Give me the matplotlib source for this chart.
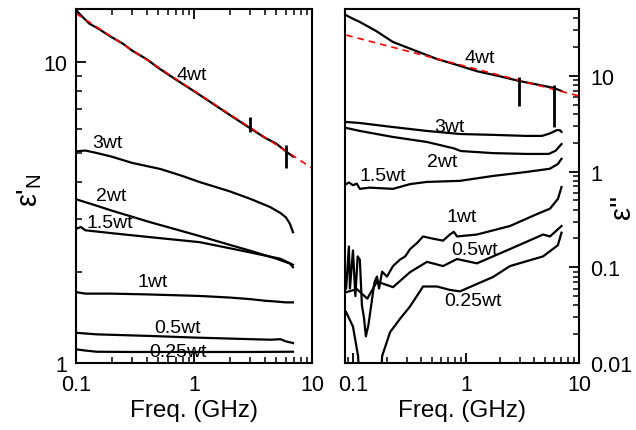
import matplotlib
matplotlib.use("Agg")
import matplotlib.pyplot as plt
from matplotlib.ticker import FixedLocator, FixedFormatter, LogLocator, NullFormatter

plt.rcParams['font.family'] = ['Liberation Sans', 'DejaVu Sans']
plt.rcParams['mathtext.fontset'] = 'custom'
plt.rcParams['mathtext.rm'] = 'Liberation Sans'
plt.rcParams['mathtext.it'] = 'Liberation Sans'

# ---------------- left panel: eps'_N ----------------
L_f_4 = [0.1, 0.11, 0.13, 0.15, 0.17, 0.2, 0.25, 0.3, 0.4, 0.5, 0.7, 1, 1.5, 2, 3, 4, 5, 6, 6.9]
L_v_4 = [14.9, 14.3, 13.4, 13.0, 12.6, 12.1, 11.5, 10.9, 10.2, 9.55, 8.75, 8.0, 7.2, 6.68, 6.02, 5.6, 5.35, 5.05, 4.85]
L_f_3 = [0.1, 0.12, 0.145, 0.2, 0.3, 0.52, 0.8, 1.12, 2, 3, 4.4, 5.4, 6.0, 6.5, 6.9]
L_v_3 = [5.05, 5.08, 5.0, 4.85, 4.62, 4.41, 4.18, 3.99, 3.72, 3.51, 3.30, 3.15, 3.05, 2.90, 2.72]
L_f_2 = [0.1, 0.15, 0.2, 0.3, 0.42, 0.7, 1.12, 2, 3, 5, 6.5, 6.9]
L_v_2 = [3.5, 3.33, 3.21, 3.06, 2.94, 2.78, 2.64, 2.47, 2.36, 2.22, 2.14, 2.08]
L_f_15 = [0.1, 0.11, 0.12, 0.2, 0.42, 1.12, 3, 5.4, 6.9]
L_v_15 = [2.79, 2.83, 2.76, 2.70, 2.62, 2.52, 2.33, 2.22, 2.12]
L_f_1 = [0.1, 0.12, 0.2, 0.4, 1.12, 2, 3, 4, 5, 6, 6.9]
L_v_1 = [1.72, 1.70, 1.70, 1.69, 1.67, 1.65, 1.63, 1.61, 1.60, 1.59, 1.59]
L_f_05 = [0.1, 0.15, 0.42, 1, 3, 4.5, 5.4, 6, 6.9]
L_v_05 = [1.26, 1.245, 1.23, 1.215, 1.20, 1.195, 1.20, 1.18, 1.165]
L_f_025 = [0.1, 0.12, 0.15, 0.3, 1, 3, 6.9]
L_v_025 = [1.11, 1.10, 1.09, 1.088, 1.088, 1.088, 1.09]
L_fit_f = [0.1, 10]
L_fit_v = [14.5, 4.44]
L_mark_f = [3.0, 6.0]
L_mark_lo = [5.85, 4.44]
L_mark_hi = [6.57, 5.30]
L_labels = ['4wt', '3wt', '2wt', '1.5wt', '1wt', '0.5wt', '0.25wt']
L_label_f = [0.96, 0.183, 0.20, 0.194, 0.45, 0.72, 0.73]
L_label_v = [9.06, 5.42, 3.59, 2.94, 1.87, 1.317, 1.088]

# ---------------- right panel: eps'' ----------------
R_f_4 = [0.087, 0.1, 0.115, 0.16, 0.226, 0.35, 0.554, 0.8, 1.25, 2, 2.95, 4.3, 6.0, 7.0]
R_v_4 = [43, 39.5, 36.6, 29.5, 22.6, 18.5, 15.0, 13.2, 11.2, 9.9, 8.85, 8.1, 7.48, 6.95]
R_f_3 = [0.087, 0.115, 0.226, 0.45, 0.89, 1.73, 3.4, 4.7, 5.5, 6.4, 6.8, 7.0]
R_v_3 = [3.30, 3.22, 2.92, 2.66, 2.47, 2.42, 2.36, 2.36, 2.5, 2.72, 2.7, 2.6]
R_f_2 = [0.087, 0.115, 0.226, 0.45, 0.78, 0.9, 1.73, 3.4, 5.4, 6.2, 7.0]
R_v_2 = [2.86, 2.66, 2.30, 2.04, 1.75, 1.64, 1.56, 1.53, 1.53, 1.65, 1.94]
R_f_15 = [0.087, 0.092, 0.1, 0.108, 0.115, 0.14, 0.226, 0.32, 0.45, 0.88, 1.73, 3.4, 5.5, 6.5, 7.0]
R_v_15 = [0.74, 0.77, 0.72, 0.75, 0.66, 0.68, 0.66, 0.74, 0.78, 0.80, 0.90, 0.99, 1.07, 1.2, 1.36]
R_f_1 = [0.087, 0.092, 0.094, 0.1, 0.105, 0.11, 0.115, 0.12, 0.125, 0.13, 0.137, 0.147, 0.155, 0.163,
         0.17, 0.181, 0.2, 0.226, 0.26, 0.29, 0.32, 0.37, 0.417, 0.5, 0.626, 0.72, 0.78, 0.833,
         1.25, 2.45, 4.25, 5.54, 6.52, 7.0]
R_v_1 = [0.06, 0.165, 0.06, 0.15, 0.05, 0.13, 0.12, 0.04, 0.03, 0.019, 0.025, 0.045, 0.07, 0.08,
         0.06, 0.09, 0.08, 0.103, 0.12, 0.13, 0.155, 0.18, 0.21, 0.20, 0.19, 0.22, 0.235, 0.21,
         0.22, 0.27, 0.36, 0.41, 0.52, 0.69]
R_f_05 = [0.087, 0.1085, 0.134, 0.163, 0.226, 0.32, 0.452, 0.626, 0.833, 1.25, 2.45, 4.81, 5.54, 7.0]
R_v_05 = [0.055, 0.059, 0.047, 0.071, 0.062, 0.089, 0.114, 0.103, 0.122, 0.11, 0.155, 0.22, 0.21, 0.27]
R_f_025 = [0.087, 0.1, 0.111, 0.116, 0.175, 0.181, 0.213, 0.261, 0.32, 0.417, 0.554, 0.722, 0.885,
           1.25, 1.73, 2.45, 4.81, 6.5, 7.0]
R_v_025 = [0.034, 0.024, 0.0118, 0.004, 0.004, 0.0118, 0.021, 0.029, 0.039, 0.063, 0.063, 0.058, 0.056,
           0.067, 0.079, 0.103, 0.13, 0.17, 0.23]
R_fit_f = [0.087, 10]
R_fit_v = [26.7, 6.17]
R_mark_f = [2.95, 6.0]
R_mark_lo = [4.84, 2.92]
R_mark_hi = [9.75, 8.03]
R_labels = ['4wt', '3wt', '2wt', '1.5wt', '1wt', '0.5wt', '0.25wt']
R_label_f = [1.33, 0.72, 0.61, 0.184, 0.92, 1.20, 1.15]
R_label_v = [15.7, 2.99, 1.26, 0.90, 0.343, 0.155, 0.0445]

x_ticks = [0.1, 1, 10]
x_ticklabels = ['0.1', '1', '10']
L_yticks = [1, 10]
L_yticklabels = ['1', '10']
R_yticks = [0.01, 0.1, 1, 10]
R_yticklabels = ['0.01', '0.1', '1', '10']

W, H = 636, 431
fig = plt.figure(figsize=(W / 100, H / 100), dpi=100)
ax1 = fig.add_axes([76 / W, 67 / H, 236 / W, 354 / H])
ax2 = fig.add_axes([345 / W, 67 / H, 234 / W, 354 / H])

lw = 1.6
for f, v in [(L_f_4, L_v_4), (L_f_3, L_v_3), (L_f_2, L_v_2), (L_f_15, L_v_15),
             (L_f_1, L_v_1), (L_f_05, L_v_05), (L_f_025, L_v_025)]:
    ax1.plot(f, v, color='black', lw=lw)
ax1.plot(L_fit_f, L_fit_v, color='red', lw=1.2, ls=(0, (4, 3)))
ax1.vlines(L_mark_f, L_mark_lo, L_mark_hi, color='black', lw=2.0)
for t, f, v in zip(L_labels, L_label_f, L_label_v):
    ax1.text(f, v, t, fontsize=14, ha='center', va='center')

for f, v in [(R_f_4, R_v_4), (R_f_3, R_v_3), (R_f_2, R_v_2), (R_f_15, R_v_15),
             (R_f_1, R_v_1), (R_f_05, R_v_05), (R_f_025, R_v_025)]:
    ax2.plot(f, v, color='black', lw=lw)
ax2.plot(R_fit_f, R_fit_v, color='red', lw=1.2, ls=(0, (4, 3)))
ax2.vlines(R_mark_f, R_mark_lo, R_mark_hi, color='black', lw=2.0)
for t, f, v in zip(R_labels, R_label_f, R_label_v):
    ax2.text(f, v, t, fontsize=14, ha='center', va='center')

for ax in (ax1, ax2):
    ax.set_xscale('log')
    ax.set_yscale('log')
    for s in ax.spines.values():
        s.set_linewidth(1.5)
    ax.xaxis.set_major_locator(FixedLocator(x_ticks))
    ax.xaxis.set_major_formatter(FixedFormatter(x_ticklabels))
    ax.xaxis.set_minor_locator(LogLocator(base=10, subs=range(2, 10)))
    ax.xaxis.set_minor_formatter(NullFormatter())
    ax.yaxis.set_minor_locator(LogLocator(base=10, subs=range(2, 10)))
    ax.yaxis.set_minor_formatter(NullFormatter())
    ax.tick_params(which='major', direction='in', length=7, width=1.3, labelsize=15.5, pad=8)
    ax.tick_params(which='minor', direction='in', length=4, width=1.1)
    ax.set_xlabel('Freq. (GHz)', fontsize=17.5, labelpad=3)

ax1.set_xlim(0.1, 10)
ax1.set_ylim(1, 15)
ax1.yaxis.set_major_locator(FixedLocator(L_yticks))
ax1.yaxis.set_major_formatter(FixedFormatter(L_yticklabels))
ax1.tick_params(which='both', top=True, right=False)
ax1.tick_params(axis='y', which='major', pad=6)

ax2.set_xlim(0.085, 10)
ax2.set_ylim(0.01, 50)
ax2.yaxis.tick_right()
ax2.yaxis.set_major_locator(FixedLocator(R_yticks))
ax2.yaxis.set_major_formatter(FixedFormatter(R_yticklabels))
ax2.tick_params(which='both', left=False, right=True, top=False)
ax2.tick_params(axis='y', which='major', pad=8)

fig.text(30 / W, 1 - 190 / H, "ε'$_\\mathrm{N}$", rotation=90, fontsize=21, ha='center', va='center')
fig.text(622 / W, 1 - 207 / H, "ε''", rotation=90, fontsize=21, ha='center', va='center')

fig.savefig('out.png', dpi=100)
